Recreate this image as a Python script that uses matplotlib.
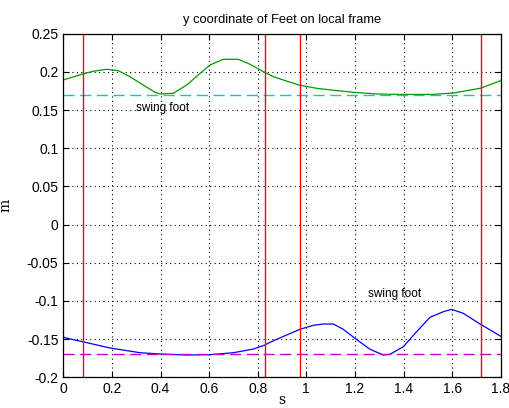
import matplotlib
matplotlib.use("Agg")
import matplotlib.pyplot as plt
import numpy as np

# data
left_t = [0.0, 0.076, 0.123, 0.179, 0.226, 0.274, 0.329, 0.377, 0.398, 0.453, 0.508, 0.563, 0.604,
          0.658, 0.72, 0.768, 0.823, 0.864, 0.919, 0.97, 1.042, 1.11, 1.193, 1.29, 1.385, 1.52,
          1.605, 1.716, 1.8]
left_y = [0.1894, 0.1968, 0.2008, 0.2034, 0.2016, 0.1937, 0.1828, 0.1733, 0.171, 0.172, 0.1828,
          0.1981, 0.209, 0.2165, 0.2165, 0.21, 0.2003, 0.1937, 0.188, 0.1828, 0.1785, 0.176,
          0.1733, 0.171, 0.1705, 0.1705, 0.1723, 0.1785, 0.1885]
right_t = [0.0, 0.078, 0.192, 0.316, 0.398, 0.507, 0.603, 0.70, 0.782, 0.827, 0.851, 0.919, 0.974,
           1.029, 1.07, 1.111, 1.152, 1.2, 1.262, 1.317, 1.344, 1.399, 1.454, 1.509, 1.564, 1.598,
           1.646, 1.715, 1.8]
right_y = [-0.1476, -0.1533, -0.1616, -0.1678, -0.1695, -0.1708, -0.1704, -0.1678, -0.163, -0.158,
           -0.1541, -0.1446, -0.1371, -0.1319, -0.1302, -0.1302, -0.1371, -0.1489, -0.1633, -0.1708,
           -0.1699, -0.16, -0.1403, -0.1214, -0.1141, -0.111, -0.1162, -0.1302, -0.1462]
ref_levels = [0.17, -0.17]
ref_colors = ['#00cccc', '#cc00cc']
events = [0.08, 0.83, 0.975, 1.717]
labels = ["swing foot", "swing foot"]
label_pos_x = [0.41, 1.365]
label_pos_y = [0.153, -0.091]

plt.rcParams['font.family'] = ['Liberation Sans', 'DejaVu Sans']
fig = plt.figure(figsize=(5.09, 4.08), dpi=100)
ax = fig.add_axes([63.3/509, 1 - 377.3/408, (500.7-63.3)/509, (377.3-33.7)/408])

ax.plot(left_t, left_y, color='#009900', lw=0.9)
ax.plot(right_t, right_y, color='#0000ff', lw=0.9)
for lev, c in zip(ref_levels, ref_colors):
    ax.axhline(lev, color=c, lw=1.0, ls=(0, (8, 4)))
for e in events:
    ax.axvline(e, color='#ff0000', lw=1.0)
for s, x, y in zip(labels, label_pos_x, label_pos_y):
    ax.text(x, y, s, ha='center', va='center', fontsize=8.5)

ax.set_xlim(0, 1.8)
ax.set_ylim(-0.2, 0.25)
ax.set_xticks(np.arange(0, 1.81, 0.2))
ax.set_xticklabels(['0', '0.2', '0.4', '0.6', '0.8', '1', '1.2', '1.4', '1.6', '1.8'])
ax.set_yticks(np.arange(-0.2, 0.251, 0.05))
ax.set_yticklabels(['-0.2', '-0.15', '-0.1', '-0.05', '0', '0.05', '0.1', '0.15', '0.2', '0.25'])
ax.tick_params(direction='in', length=4, labelsize=10, top=True, right=True, width=0.8)
ax.grid(True, color='black', ls=(0, (1, 3)), lw=0.8)
for sp in ax.spines.values():
    sp.set_linewidth(0.9)

ax.set_title("y coordinate of Feet on local frame", fontsize=9.3, pad=8)
ax.set_xlabel("s", fontsize=10, family='DejaVu Serif', labelpad=-2)
ax.set_ylabel("m", fontsize=10, family='DejaVu Serif', labelpad=10)

fig.savefig("out.png", dpi=100)
